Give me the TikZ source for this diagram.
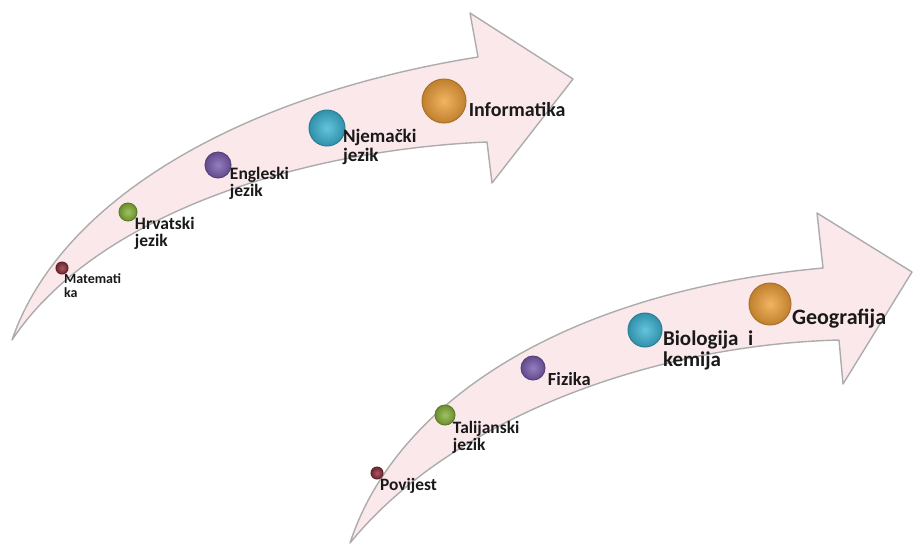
\documentclass[tikz,border=0pt]{standalone}
\usepackage{fontspec}
\setmainfont{Carlito}
\usetikzlibrary{positioning}

\definecolor{bandpink}{HTML}{FBE8EB}
\definecolor{dotred}{HTML}{8E2F3C}
\definecolor{dotgreen}{HTML}{86B23A}
\definecolor{dotpurple}{HTML}{7B5EB0}
\definecolor{dotcyan}{HTML}{3DB5D5}
\definecolor{dotorange}{HTML}{F0A13A}

\begin{document}
\begin{tikzpicture}[%
    x=0.5pt, y=-0.5pt,
    band/.style={fill=bandpink, draw=gray!65, line width=0.7pt, line join=round},
    sphere/.style 2 args={circle, inner sep=0pt, outer sep=0pt, minimum size=#1,
        shading=radial, inner color=#2!80!white, outer color=#2!80!black,
        draw=#2!70!black, line width=0.5pt},
    lbl/.style={inner sep=0pt, outer sep=0pt, align=left, text=black!90,
        font=\fontsize{#1}{#1}\selectfont\bfseries}
    ]

    \useasboundingbox (0,0) rectangle (913,547);

    % upper arrow
    \path[band] (12,340) .. controls (60,200) and (240,95) .. (478,57)
        -- (470,13) -- (573,79) -- (492,183) -- (487,142)
        .. controls (300,150) and (95,215) .. (12,340) -- cycle;

    % lower arrow
    \path[band] (350,543) .. controls (395,405) and (560,292) .. (823,268)
        -- (817,213) -- (912,272) -- (843,384) -- (839,340)
        .. controls (650,345) and (450,420) .. (350,543) -- cycle;

    \node[sphere={6pt}{dotred}]     (mat) at (62,268)  {};
    \node[sphere={9pt}{dotgreen}]   (hrv) at (128,212) {};
    \node[sphere={13pt}{dotpurple}] (eng) at (218,165) {};
    \node[sphere={18pt}{dotcyan}]   (njem) at (327,128) {};
    \node[sphere={22pt}{dotorange}] (inf) at (444,101) {};

    \node[sphere={6pt}{dotred}]     (pov) at (377,473) {};
    \node[sphere={10pt}{dotgreen}]  (tal) at (445,415) {};
    \node[sphere={12pt}{dotpurple}] (fiz) at (533,368) {};
    \node[sphere={17pt}{dotcyan}]   (bio) at (645,330) {};
    \node[sphere={21pt}{dotorange}] (geo) at (770,304) {};

    \node[lbl=7pt, below right=0.8pt and -1.1pt of mat] (matL) {Matemati\\ka};
    \node[lbl=8.75pt, below right=-0.6pt and 0.3pt of hrv] (hrvL) {Hrvatski\\jezik};
    \node[lbl=8.75pt, below right=-3.6pt and 1.4pt of eng] (engL) {Engleski\\jezik};
    \node[lbl=9.5pt, below right=-6pt and 1.65pt of njem] (njemL) {Njemački\\jezik};
    \node[lbl=10pt, below right=-7.2pt and 4.6pt of inf] (infL) {Informatika};

    \node[lbl=8.7pt, below right=0.6pt and -0.6pt of pov] (povL) {Povijest};
    \node[lbl=8.7pt, below right=-0.6pt and 0.45pt of tal] (talL) {Talijanski\\jezik};
    \node[lbl=9.25pt, below right=-1.8pt and 3.25pt of fiz] (fizL) {Fizika};
    \node[lbl=10.5pt, below right=-5.4pt and 3pt of bio] (bioL) {Biologija\ \ i\\kemija};
    \node[lbl=11pt, below right=-5pt and 3.6pt of geo] (geoL) {Geografija};

\end{tikzpicture}
\end{document}
